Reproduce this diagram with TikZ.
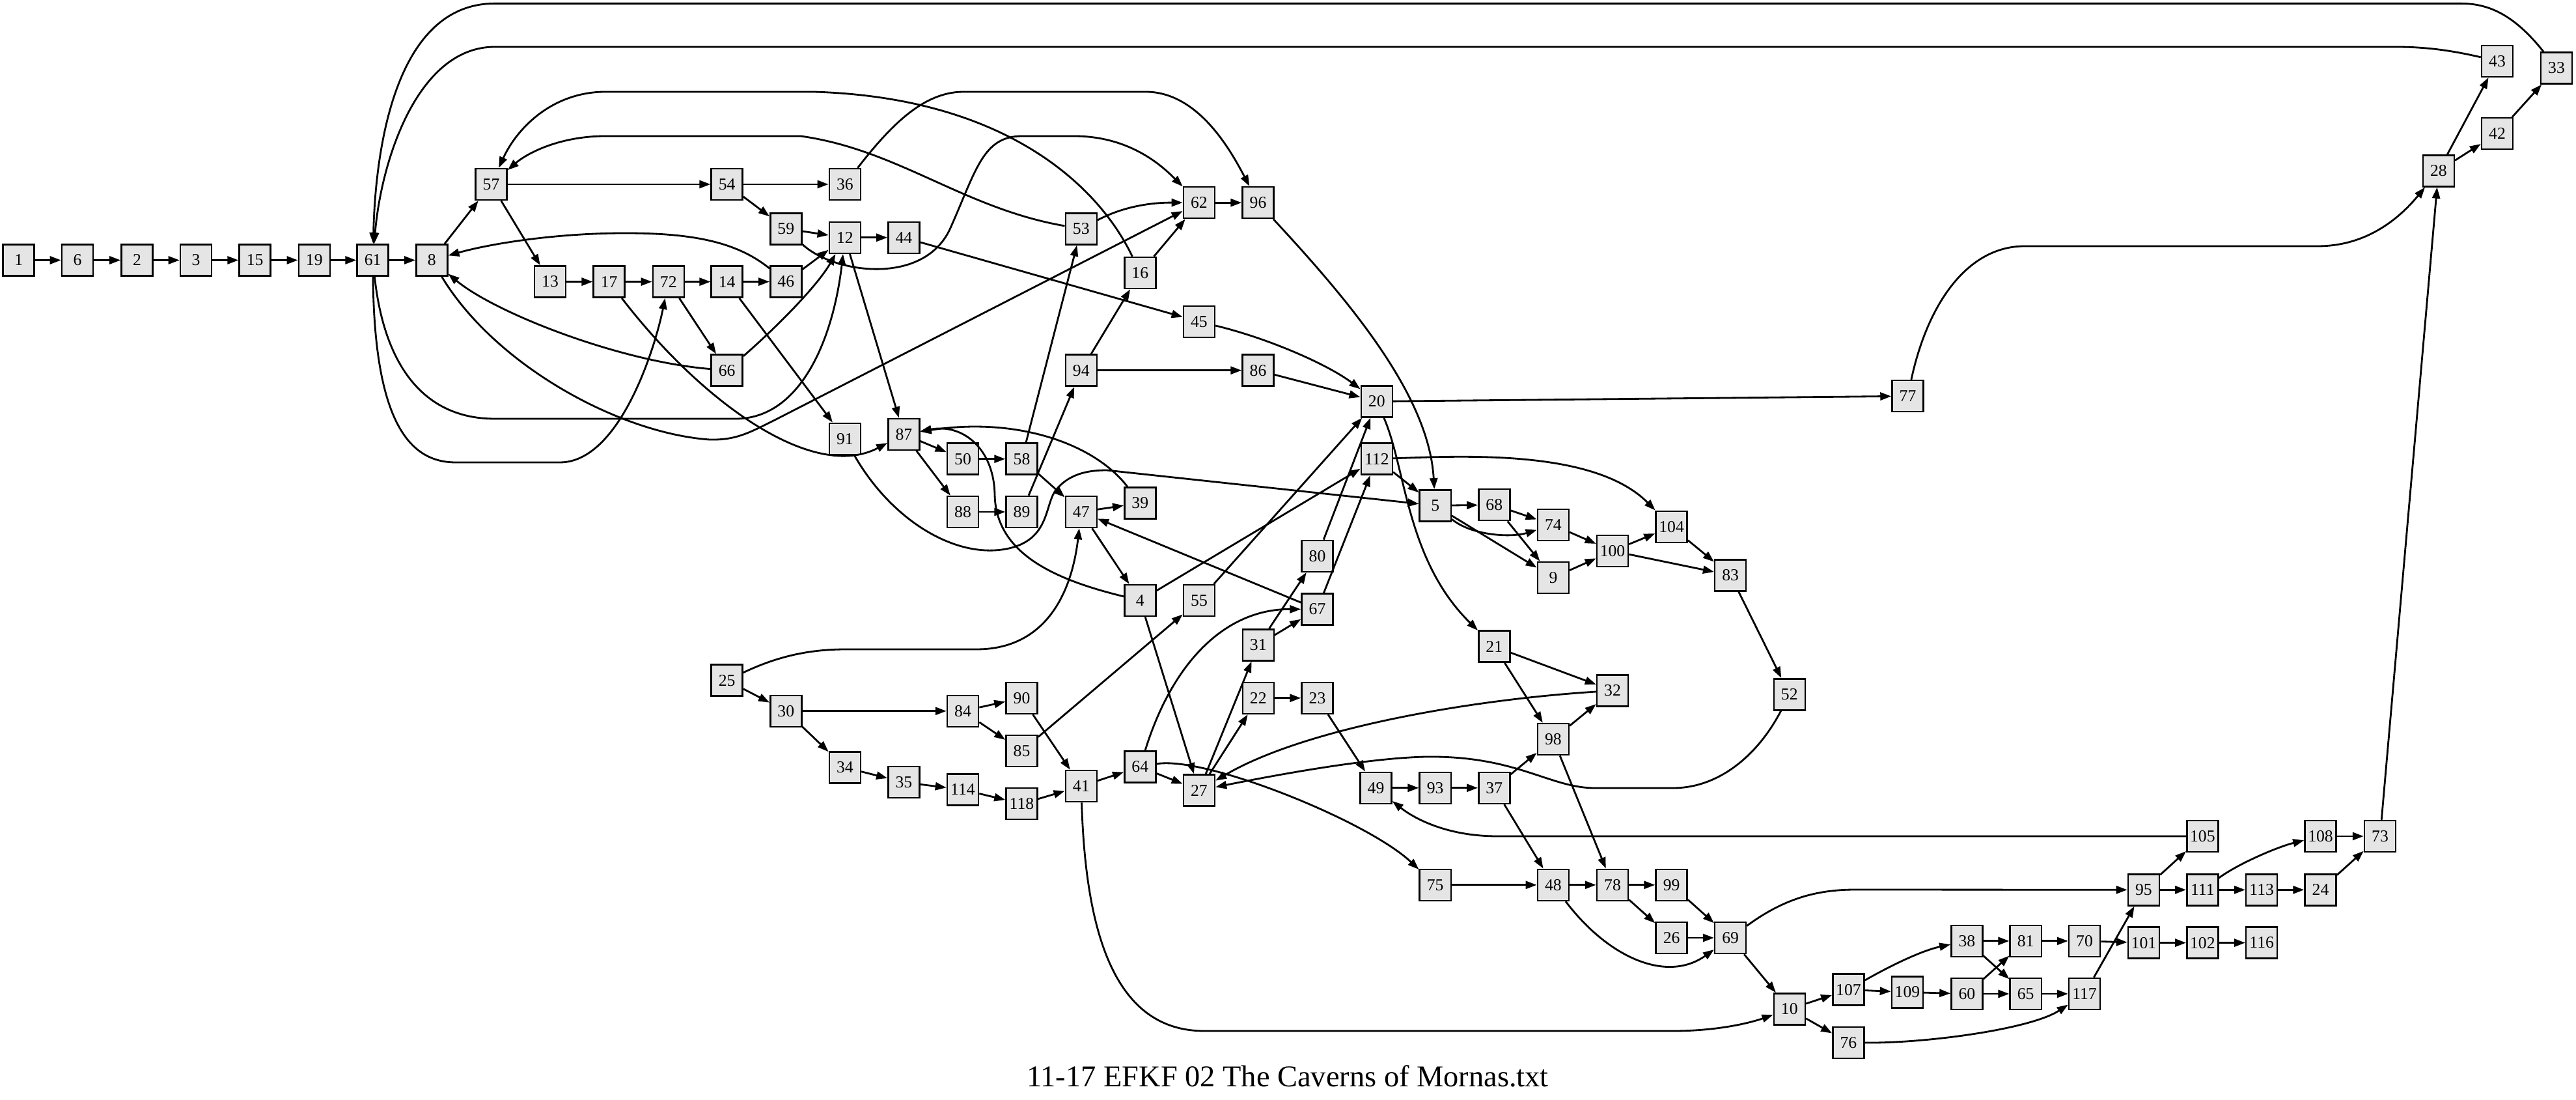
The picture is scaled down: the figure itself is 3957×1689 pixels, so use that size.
\documentclass[tikz,border=0pt]{standalone}
\usepackage{fontspec}
\setmainfont{Liberation Serif}
\usetikzlibrary{arrows.meta}
\definecolor{nodegray}{HTML}{E5E5E5}
\begin{document}
\begin{tikzpicture}[x=0.01cm,y=-0.01cm,
  nd/.style={draw=black, fill=nodegray, line width=0.7pt, minimum size=0.48cm, inner sep=0pt, font=\fontsize{7.3}{8}\selectfont},
  ed/.style={-{Triangle[length=0.17cm,width=0.12cm]}, line width=0.8pt}]
\useasboundingbox (0,0) rectangle (3957,1689);
\foreach \n/\x/\y in {1/28.7/399.5, 6/119/399.5, 2/210.5/399.5, 3/301/399.5, 15/391.6/399.5, 19/482.8/399.5, 61/572.7/399.5, 8/663.3/399.5,
 57/754.5/283, 13/845/432.6, 17/935.7/432.6, 72/1026.8/432.6, 14/1116.7/432.6, 46/1207.3/432.6, 66/1116.7/568.7,
 54/1116.7/283, 36/1297.9/283, 59/1207.3/351.3, 12/1297.9/364.8, 44/1388.4/364.8, 53/1660.8/351.3, 62/1841.9/311.2,
 96/1932.5/311.2, 16/1751.3/419, 45/1841.9/493.9, 94/1660.8/568.7, 86/1932.5/568.7, 91/1297.9/673.8, 87/1388.4/666.8,
 50/1479/704.7, 58/1569.5/704.7, 88/1479/786, 89/1569.5/786, 47/1660.8/786, 39/1751.3/772.5, 20/2114.8/616.4,
 77/2930.5/608.2, 112/2114.8/704.7, 5/2204.7/776.3, 68/2295.3/775.2, 74/2385.9/806.1, 104/2567.6/808.8, 100/2477/846,
 9/2385.9/887, 83/2658.2/883.3, 80/2023.5/853.8, 67/2023.5/935.5, 4/1751.3/922, 55/1842/922, 31/1932.8/990.3,
 22/1932.8/1071.8, 23/2023.5/1071.8, 21/2295.3/992.7, 32/2477/1060.4, 52/2748.8/1066.3, 98/2385.9/1135.1,
 25/1116.7/1044.7, 30/1207.3/1091.8, 84/1479/1091.8, 90/1569.5/1071.8, 85/1569.5/1153, 34/1297.9/1178.4,
 35/1388.4/1201.2, 114/1479/1212.5, 118/1569.5/1234.2, 41/1660.8/1207.1, 64/1751.3/1177.4, 27/1841.9/1213.6,
 49/2113.5/1209.8, 93/2204.7/1209.8, 37/2295.3/1209.8, 75/2204.7/1358.8, 48/2385.9/1358.8, 78/2477/1358.8,
 99/2567.6/1358.8, 26/2567.6/1440, 69/2658.2/1440, 10/2748.8/1549.4, 107/2839.4/1519.6, 109/2929.9/1523.4,
 76/2839.4/1600.8, 105/3383.3/1284, 108/3564.5/1284, 73/3656/1284, 95/3292.9/1366.3, 111/3383.3/1366.3,
 113/3474.2/1366.3, 24/3564.5/1366.3, 38/3021.4/1444.9, 81/3111.7/1444.9, 70/3202/1444.9, 101/3292.9/1447.6,
 102/3383.3/1447.6, 116/3474.2/1447.6, 60/3021.4/1526, 65/3111.7/1526, 117/3202/1526, 28/3745.8/262.4,
 43/3836/93.8, 42/3836/205, 33/3927/104.6}
  \node[nd] (n\n) at (\x,\y) {\n};
\foreach \a/\b in {1/6, 6/2, 2/3, 3/15, 15/19, 19/61, 61/8, 8/57, 57/54, 57/13, 13/17, 17/72, 72/14, 14/46, 72/66,
 14/91, 54/36, 54/59, 59/12, 46/12, 12/44, 12/87, 44/45, 16/62, 62/96, 94/16, 94/86, 58/53, 89/94, 87/50, 50/58,
 87/88, 88/89, 58/47, 47/39, 47/4, 67/47, 4/112, 55/20, 31/80, 31/67, 27/31, 27/22, 22/23, 23/49, 64/27, 4/27,
 41/64, 90/41, 84/90, 84/85, 85/55, 30/84, 25/30, 30/34, 34/35, 35/114, 114/118, 118/41, 80/20, 67/112, 86/20,
 112/5, 5/68, 68/74, 5/9, 68/9, 74/100, 9/100, 100/104, 100/83, 104/83, 83/52, 21/32, 21/98, 98/32, 37/98, 98/78,
 49/93, 93/37, 37/48, 75/48, 48/78, 78/99, 78/26, 99/69, 26/69, 69/10, 10/107, 10/76, 107/109, 109/60, 38/81,
 38/65, 60/81, 60/65, 81/70, 65/117, 70/101, 117/95, 95/105, 95/111, 111/113, 113/24, 108/73, 24/73, 101/102,
 102/116, 73/28, 28/43, 28/42, 42/33, 20/77}
  \draw[ed] (n\a) -- (n\b);
% curved edges
\draw[ed] (n33) .. controls (3860,20) and (3820,5.4) .. (3780,5.4) -- (760,5.4) .. controls (600,5.4) and (576,250) .. (n61);
\draw[ed] (n43) .. controls (3760,76) and (3720,72) .. (3680,72) -- (760,72) .. controls (640,72) and (585,250) .. (n61);
\draw[ed] (n16) .. controls (1690,290) and (1550,150) .. (1250,141) -- (930,141) .. controls (850,141) and (795,195) .. (n57);
\draw[ed] (n53) .. controls (1480,320) and (1380,230) .. (1230,209) -- (930,209) .. controls (860,209) and (810,235) .. (n57);
\draw[ed] (n36) .. controls (1370,190) and (1420,141) .. (1480,141) -- (1760,141) .. controls (1840,141) and (1890,230) .. (n96);
\draw[ed] (n46) .. controls (1130,370) and (1060,358) .. (960,358) .. controls (850,358) and (750,375) .. (n8);
\draw[ed] (n61) .. controls (590,560) and (650,643) .. (760,643) -- (1130,643) .. controls (1230,643) and (1280,520) .. (n12);
\draw[ed] (n61) .. controls (575,650) and (630,710) .. (700,710) -- (860,710) .. controls (950,710) and (1005,540) .. (n72);
\draw[ed] (n17) .. controls (1080,620) and (1250,740) .. (n87);
\draw[ed] (n66) .. controls (1190,505) and (1255,440) .. (n12);
\draw[ed] (n66) .. controls (950,555) and (760,480) .. (n8);
\draw[ed] (n8) .. controls (760,560) and (950,665) .. (1090,675) .. controls (1130,676) and (1150,665) .. (1190,645) -- (n62);
\draw[ed] (n59) .. controls (1280,420) and (1420,440) .. (1460,350) .. controls (1500,260) and (1510,209) .. (1570,209) -- (1650,209) .. controls (1740,209) and (1790,260) .. (n62);
\draw[ed] (n53) .. controls (1720,320) and (1760,311) .. (n62);
\draw[ed] (n45) .. controls (1950,520) and (2040,560) .. (n20);
\draw[ed] (n96) .. controls (2080,470) and (2195,610) .. (n5);
\draw[ed] (n20) .. controls (2160,720) and (2160,860) .. (n21);
\draw[ed] (n112) .. controls (2250,700) and (2450,690) .. (n104);
\draw[ed] (n5) .. controls (2260,822) and (2320,826) .. (n74);
\draw[ed] (n91) .. controls (1370,800) and (1470,860) .. (1550,842) .. controls (1610,828) and (1605,780) .. (1620,755) .. controls (1640,728) and (1670,722) .. (1700,722) -- (n5);
\draw[ed] (n39) .. controls (1680,680) and (1560,640) .. (n87);
\draw[ed] (n4) .. controls (1620,890) and (1530,850) .. (1528,760) .. controls (1527,690) and (1480,650) .. (n87);
\draw[ed] (n25) .. controls (1200,1005) and (1250,997) .. (1300,997) -- (1500,997) .. controls (1600,997) and (1645,920) .. (n47);
\draw[ed] (n64) .. controls (1800,1020) and (1880,935) .. (n67);
\draw[ed] (n64) .. controls (1850,1160) and (2100,1260) .. (n75);
\draw[ed] (n41) .. controls (1668,1450) and (1720,1583) .. (1850,1583) -- (2570,1583) .. controls (2640,1583) and (2690,1570) .. (n10);
\draw[ed] (n32) .. controls (2250,1075) and (2000,1120) .. (n27);
\draw[ed] (n52) .. controls (2700,1160) and (2640,1210) .. (2570,1210) -- (2450,1210) .. controls (2380,1210) and (2330,1160) .. (2190,1162) .. controls (2100,1164) and (1960,1190) .. (n27);
\draw[ed] (n105) -- (2300,1284) .. controls (2220,1284) and (2170,1255) .. (n49);
\draw[ed] (n48) .. controls (2470,1470) and (2560,1510) .. (n69);
\draw[ed] (n69) .. controls (2740,1380) and (2790,1366) .. (2850,1366) -- (n95);
\draw[ed] (n107) .. controls (2900,1485) and (2950,1460) .. (n38);
\draw[ed] (n76) .. controls (2960,1602) and (3120,1580) .. (n117);
\draw[ed] (n111) .. controls (3440,1325) and (3500,1300) .. (n108);
\draw[ed] (n77) .. controls (2960,470) and (3020,378) .. (3110,378) -- (3560,378) .. controls (3640,378) and (3690,330) .. (n28);
\node[font=\fontsize{13.2}{15}\selectfont, anchor=base] (title) at (1978,1668) {11-17 EFKF 02 The Caverns of Mornas.txt};
\end{tikzpicture}
\end{document}
